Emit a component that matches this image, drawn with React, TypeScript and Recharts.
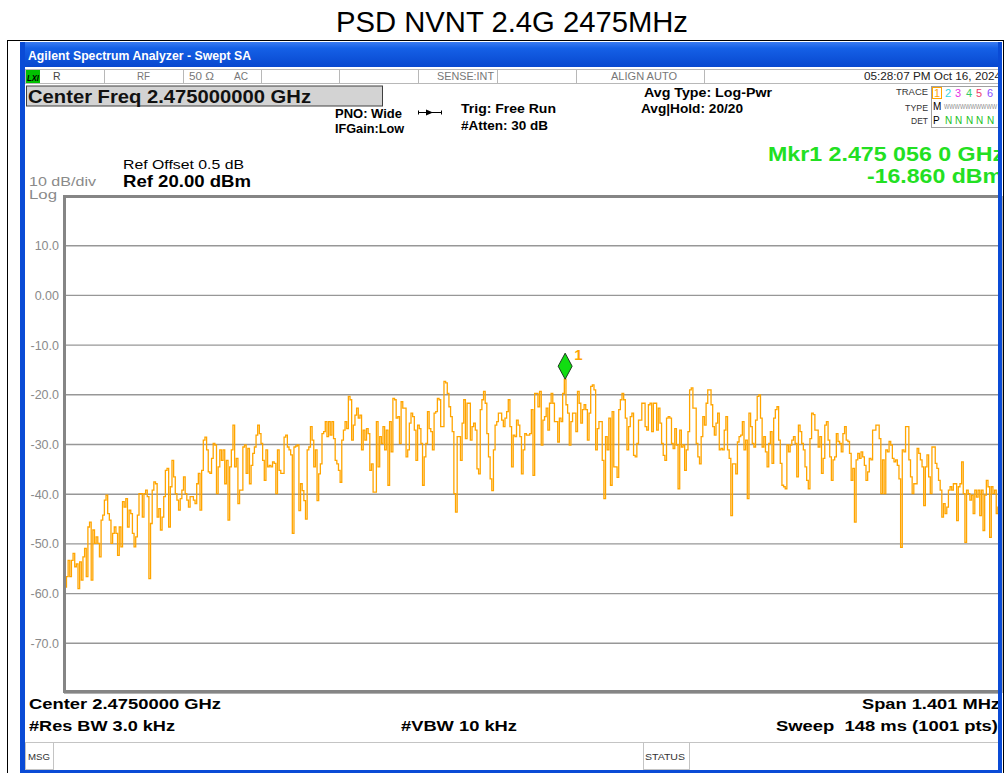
import React from 'react';
import { LineChart, Line, XAxis, YAxis, CartesianGrid, ReferenceDot } from 'recharts';

// Trace values (dBm), read left to right across the screen
const seg1 = [-53.3,-58.7,-56.6,-53.3,-56.6,-53.3,-51.9,-54.6,-54.0,-59.0,-53.6,-57.3,-52.6,-50.9,-56.6,-46.6,-45.6,-57.3,-47.2,-49.9,-48.6,-49.9,-52.6,-45.2,-44.2,-41.2,-40.2,-43.9,-45.2,-49.9,-47.9,-46.6,-47.9,-52.3,-46.6,-50.6,-41.5,-42.6,-40.9,-46.6,-43.2,-43.9,-47.9,-50.6,-48.6,-44.2,-39.9,-39.9,-44.6,-39.9,-39.2,-40.5,-57.0,-45.9,-39.2,-37.5,-37.9,-44.6,-42.9,-47.2,-44.6,-40.5,-35.2,-34.8,-46.6,-38.5,-33.2,-36.5,-39.9,-41.2,-43.2,-40.9,-39.2,-36.5,-39.9,-41.2,-42.6,-40.5,-40.5,-41.2,-41.9,-37.9,-35.8,-43.2,-35.2,-29.1,-28.5,-31.1,-35.5,-35.8,-32.8,-29.8,-30.1,-39.9,-34.5,-31.1,-33.2,-31.1,-37.9,-33.2,-45.2,-34.5,-31.1,-26.1,-34.5,-32.8,-41.9,-39.2,-39.2,-30.5,-30.1,-35.8,-30.8,-37.9,-34.2,-31.8,-30.5,-28.1,-26.1,-27.8,-29.8,-33.2,-37.2,-31.1,-34.5,-34.2,-34.5,-33.5,-33.8,-39.9,-31.1,-35.2,-35.8,-35.8,-28.5,-28.1,-30.5,-31.1,-32.1,-47.9,-30.5];
const seg2 = [-30.3,-30.1,-43.3,-37.9,-39.3,-41.3,-45.0,-31.1,-30.5,-26.4,-29.1,-34.5,-31.1,-41.3,-35.9,-33.9,-27.8,-27.4,-25.4,-28.4,-25.4,-28.1,-25.4,-28.8,-33.2,-33.9,-35.2,-37.6,-29.1,-27.1,-25.4,-26.8,-20.3,-21.0,-29.1,-26.1,-24.1,-22.7,-24.7,-24.1,-31.1,-27.1,-29.1,-26.8,-27.8,-35.2,-33.9,-39.6,-39.6,-25.4,-34.5,-28.4,-29.8,-26.4,-31.1,-27.1,-38.2,-25.4,-31.5,-20.7,-21.0,-24.7,-24.4,-29.8,-21.4,-22.7,-22.7,-32.5,-31.1,-25.7,-23.7,-24.4,-27.1,-33.2,-26.1,-26.8,-29.8,-38.2,-32.5,-29.8,-23.4,-26.8,-27.4,-31.1,-23.7,-23.4,-20.7,-21.0,-26.4,-26.4,-17.3,-17.6,-19.7,-22.4,-24.4,-27.4,-39.9,-43.6,-28.4,-28.4,-33.2,-25.7,-21.0,-28.8,-21.7,-21.7,-29.1,-26.4,-25.7,-27.1,-34.9,-35.9,-23.0,-21.0,-19.3,-21.7,-27.8,-32.5,-36.9,-39.3,-31.1,-26.1,-25.4,-23.7,-23.7,-25.1,-26.4,-24.7,-23.4,-21.0,-26.4,-34.5,-28.1,-28.4,-25.1,-26.1,-28.4,-35.9,-31.1,-27.8,-28.1];
const seg3 = [-28.1,-27.8,-23.0,-36.2,-19.7,-19.7,-22.4,-19.3,-30.1,-25.1,-24.4,-22.7,-27.1,-21.7,-19.7,-21.7,-25.4,-25.4,-29.5,-24.7,-25.4,-19.7,-16.86,-22.0,-23.7,-30.1,-25.4,-23.7,-23.7,-27.4,-19.3,-21.7,-25.7,-23.0,-22.0,-23.0,-29.1,-23.7,-18.3,-18.0,-19.0,-31.1,-26.8,-25.4,-25.4,-33.2,-40.9,-28.4,-31.1,-24.7,-38.2,-23.4,-34.5,-34.5,-36.6,-23.0,-21.0,-19.7,-21.0,-24.7,-31.1,-26.4,-24.4,-23.7,-32.2,-32.5,-29.8,-25.1,-25.1,-21.7,-21.7,-26.4,-27.1,-22.0,-21.7,-27.4,-21.7,-21.7,-27.1,-22.7,-25.7,-29.8,-32.2,-33.2,-24.7,-24.4,-24.7,-29.8,-30.8,-26.8,-30.1,-38.9,-27.1,-30.5,-30.1,-35.2,-31.1,-27.4,-19.0,-18.6,-22.7,-22.7,-29.8,-32.5,-33.9,-28.4,-24.4,-26.1,-21.7,-19.0,-19.0,-22.0,-26.4,-28.1,-25.7,-23.7,-31.1,-30.8,-31.1,-27.1,-24.4,-31.1,-32.8,-44.3,-33.9,-33.9,-35.9,-29.5,-28.4,-28.1,-25.4,-31.1,-29.1,-40.9,-23.7,-26.4,-29.8,-30.5,-25.1,-20.3,-20.0,-24.7,-30.5,-28.4];
const seg4 = [-31.5,-34.5,-29.8,-27.4,-33.8,-24.7,-23.0,-22.4,-29.1,-33.8,-38.2,-38.5,-38.9,-30.1,-31.5,-30.1,-29.1,-28.4,-29.8,-36.5,-26.1,-27.4,-29.8,-31.1,-34.5,-37.2,-38.9,-28.8,-23.7,-24.0,-27.1,-27.1,-30.5,-28.4,-35.8,-32.8,-26.1,-25.4,-29.1,-32.5,-37.2,-33.1,-32.5,-27.8,-29.4,-29.8,-31.5,-27.8,-26.4,-29.1,-29.4,-31.8,-37.2,-34.8,-45.6,-33.1,-31.8,-32.8,-31.5,-32.5,-34.2,-37.2,-35.5,-32.8,-33.1,-27.1,-27.1,-26.1,-26.1,-28.8,-39.9,-33.1,-39.9,-31.1,-31.5,-29.4,-30.1,-32.8,-33.5,-33.1,-34.2,-36.9,-50.7,-31.1,-31.5,-26.4,-26.4,-33.1,-36.5,-39.9,-37.9,-37.9,-30.8,-31.8,-33.1,-34.5,-42.3,-34.5,-32.1,-36.5,-39.9,-30.5,-30.5,-33.8,-34.8,-37.2,-39.2,-44.6,-41.9,-43.9,-42.6,-39.2,-38.5,-39.2,-37.9,-37.9,-45.3,-38.5,-37.9,-33.5,-39.9,-49.7,-39.2,-39.9,-41.2,-40.2,-43.9,-39.2,-40.6,-39.2,-44.3,-39.2,-47.3,-40.2,-37.2,-38.5,-48.7,-38.5,-39.9,-39.2,-43.9,-42.6,-39.2,-36.2];

const traceDbm = [...seg1, ...seg2, ...seg3, ...seg4];
const SPAN_KHZ = 1401;
const HALF = SPAN_KHZ / 2;
const yTicks = [20, 10, 0, -10, -20, -30, -40, -50, -60, -70, -80];
const yTickLabels = ['', '10.0', '0.00', '-10.0', '-20.0', '-30.0', '-40.0', '-50.0', '-60.0', '-70.0', ''];
const xDivisions = [0, 1, 2, 3, 4, 5, 6, 7, 8, 9, 10];
const xTicks = xDivisions.map((k) => -HALF + (k * SPAN_KHZ) / 10);

const N = traceDbm.length;
const chartData = traceDbm.map((v, i) => ({ f: -HALF + (i * SPAN_KHZ) / (N - 1), dbm: v }));
let markerIdx = 0;
traceDbm.forEach((v, i) => { if (v > traceDbm[markerIdx]) markerIdx = i; });
const marker = chartData[markerIdx];

const FONT = "'Liberation Sans', Arial, Helvetica, sans-serif";

const T = (p: any) => (
  <text
    x={p.x}
    y={p.y}
    fontSize={p.s}
    fontWeight={p.b ? 'bold' : 'normal'}
    fontStyle={p.it ? 'italic' : 'normal'}
    fill={p.c || '#000'}
    textAnchor={p.a || 'start'}
    fontFamily={FONT}
    textLength={p.w}
    lengthAdjust={p.w ? 'spacingAndGlyphs' : undefined}
  >
    {p.children}
  </text>
);

const MarkerShape = (props: any) => {
  const { cx, cy } = props;
  if (cx == null || cy == null) return null;
  return (
    <g>
      <polygon
        points={`${cx},${cy} ${cx + 7},${cy - 13} ${cx},${cy - 26} ${cx - 7},${cy - 13}`}
        fill="#11dd11"
        stroke="#1e3a1e"
        strokeWidth={1}
      />
      <text x={cx + 9} y={cy - 19} fontSize={15} fontWeight="bold" fill="#ffa500" fontFamily={FONT}>1</text>
    </g>
  );
};

export default function App() {
  return (
    <div style={{ position: 'absolute', left: 0, top: 0, width: 1006, height: 773, background: '#fff', overflow: 'hidden' }}>
      <div style={{ position: 'absolute', left: 0, top: 0 }}>
        <LineChart width={1006} height={773} data={chartData} margin={{ top: 196, right: 4, bottom: 80, left: 20 }}>
          <CartesianGrid stroke="#979797" strokeWidth={1.4} />
          <XAxis dataKey="f" type="number" domain={[-HALF, HALF]} ticks={xTicks} height={0} tick={false} axisLine={false} tickLine={false} allowDataOverflow />
          <YAxis
            type="number"
            domain={[-80, 20]}
            ticks={yTicks}
            width={44}
            axisLine={false}
            tickLine={false}
            tickSize={0}
            tickMargin={5}
            interval={0}
            tick={{ fill: '#8a8a8a', fontSize: 12.5, fontFamily: FONT }}
            tickFormatter={(v: number) => yTickLabels[yTicks.indexOf(v)]}
            allowDataOverflow
          />
          <Line dataKey="dbm" type="step" stroke="#ffa500" strokeWidth={1.3} dot={false} isAnimationActive={false} />
          <ReferenceDot x={marker.f} y={marker.dbm} r={0} shape={MarkerShape} ifOverflow="visible" />
        </LineChart>
      </div>
      <svg width={1006} height={773} style={{ position: 'absolute', left: 0, top: 0, pointerEvents: 'none' }}>
        <defs>
          <linearGradient id="tb" x1="0" y1="0" x2="0" y2="1">
            <stop offset="0" stopColor="#3b7cf2" />
            <stop offset="0.25" stopColor="#1560e6" />
            <stop offset="1" stopColor="#0848cf" />
          </linearGradient>
          <clipPath id="win">
            <rect x={25} y={40} width={973} height={733} />
          </clipPath>
        </defs>

        {/* outer frame */}
        <rect x={7.5} y={40.5} width={996} height={740} fill="none" stroke="#000" strokeWidth={1} />
        <T x={336} y={32} s={29} w={352}>PSD NVNT 2.4G 2475MHz</T>

        {/* window title bar */}
        <rect x={20} y={42} width={982} height={25} fill="url(#tb)" />
        <T x={28} y={60} s={12.5} b w={223} c="#fff">Agilent Spectrum Analyzer - Swept SA</T>

        {/* blue borders */}
        <rect x={20} y={42} width={5} height={731} fill="#0a4bd6" />
        <rect x={998} y={42} width={4} height={731} fill="#0a4bd6" />
        <rect x={20} y={770} width={982} height={3} fill="#0a4bd6" />

        {/* status row */}
        <g clipPath="url(#win)">
          <rect x={25.5} y={69.5} width={980} height={14} fill="#fff" stroke="#b8b8b8" />
          {[104, 183, 261, 339, 418, 497, 576, 704].map((x) => (
            <line key={x} x1={x + 0.5} y1={69.5} x2={x + 0.5} y2={83.5} stroke="#b8b8b8" />
          ))}
          <rect x={26} y={70} width={14} height={13} fill="#00c000" />
          <T x={27} y={80.5} s={9} b it w={12}>LXI</T>
          <T x={53} y={80} s={10.5} c="#444">R</T>
          <T x={137} y={80} s={10.5} w={13} c="#777">RF</T>
          <T x={189} y={80} s={10.5} w={25} c="#777">50 Ω</T>
          <T x={234} y={80} s={10.5} w={14} c="#777">AC</T>
          <T x={437} y={80} s={10.5} w={57} c="#777">SENSE:INT</T>
          <T x={611} y={80} s={10.5} w={66} c="#777">ALIGN AUTO</T>
          <T x={864} y={80} s={10.5} w={137} c="#222">05:28:07 PM Oct 16, 2024</T>
        </g>

        {/* center freq box */}
        <rect x={26.5} y={86} width={356} height={20} fill="#d3d3d3" stroke="#404040" strokeWidth={1} />
        <T x={28} y={103} s={18} b w={283} c="#111">Center Freq 2.475000000 GHz</T>

        <T x={335} y={118} s={12} b w={67}>PNO: Wide</T>
        <T x={335} y={132.5} s={12} b w={69}>IFGain:Low</T>
        <line x1={418} y1={112.5} x2={442} y2={112.5} stroke="#000" strokeWidth={1} />
        <polygon points="426,109.5 433,112.5 426,115.5" fill="#000" />
        <line x1={418.5} y1={110.5} x2={418.5} y2={114.5} stroke="#000" />
        <line x1={441.5} y1={110.5} x2={441.5} y2={114.5} stroke="#000" />
        <T x={461} y={113} s={12.5} b w={95}>Trig: Free Run</T>
        <T x={461} y={130} s={12.5} b w={87}>#Atten: 30 dB</T>
        <T x={644} y={97} s={12.5} b w={128}>Avg Type: Log-Pwr</T>
        <T x={641} y={113} s={12.5} b w={102}>Avg|Hold: 20/20</T>

        {/* trace table */}
        <g clipPath="url(#win)">
          <T x={928} y={95} s={9.5} a="end" w={32} c="#333">TRACE</T>
          <T x={928} y={111} s={9.5} a="end" w={23} c="#333">TYPE</T>
          <T x={928} y={124} s={9.5} a="end" w={17} c="#333">DET</T>
          <rect x={931.5} y={86.5} width={80} height={41} fill="none" stroke="#a0a0a0" />
          <rect x={932.5} y={87.5} width={9} height={11} fill="none" stroke="#ffa500" />
          <T x={934} y={97} s={11} c="#ffa500">1</T>
          <T x={945} y={97} s={11} c="#33d6e6">2</T>
          <T x={955} y={97} s={11} c="#e633e6">3</T>
          <T x={966} y={97} s={11} c="#33cc66">4</T>
          <T x={976} y={97} s={11} c="#f03a6a">5</T>
          <T x={987} y={97} s={11} c="#8a4cff">6</T>
          <T x={933} y={110} s={10} c="#000">M</T>
          <T x={944} y={109} s={8} w={53} c="#8a8a8a">WWWWWWWWWW</T>
          <T x={933} y={124} s={10} c="#000">P</T>
          <T x={945} y={124} s={10} c="#22c022">N</T>
          <T x={955} y={124} s={10} c="#22c022">N</T>
          <T x={966} y={124} s={10} c="#22c022">N</T>
          <T x={976} y={124} s={10} c="#22c022">N</T>
          <T x={987} y={124} s={10} c="#22c022">N</T>
          <T x={768} y={161} s={20.5} b w={236} c="#22e022">Mkr1 2.475 056 0 GHz</T>
          <T x={867} y={183} s={20.5} b w={136} c="#22e022">-16.860 dBm</T>
        </g>

        <T x={123} y={169} s={13.5} w={121}>Ref Offset 0.5 dB</T>
        <T x={123} y={187} s={16.5} b w={128}>Ref 20.00 dBm</T>
        <T x={29} y={186} s={13.5} w={67} c="#8a8a8a">10 dB/div</T>
        <T x={29} y={199} s={13.5} w={28} c="#8a8a8a">Log</T>

        {/* plot frame */}
        <g clipPath="url(#win)">
          <rect x={64.5} y={196.5} width={945} height={495} fill="none" stroke="#858585" strokeWidth={3} />
        </g>

        {/* bottom annotations */}
        <g clipPath="url(#win)">
          <T x={29} y={709} s={15.5} b w={192}>Center 2.4750000 GHz</T>
          <T x={29} y={731} s={15.5} b w={146}>#Res BW 3.0 kHz</T>
          <T x={401} y={731} s={15.5} b w={116}>#VBW 10 kHz</T>
          <T x={862} y={709} s={15.5} b w={138}>Span 1.401 MHz</T>
          <T x={776} y={731} s={15.5} b w={222}>{'Sweep\u00a0 148 ms (1001 pts)'}</T>
          <line x1={25} y1={742.5} x2={998} y2={742.5} stroke="#c4c4c4" />
          <rect x={25.5} y={742.5} width={28} height={27} fill="none" stroke="#c4c4c4" />
          <T x={28} y={760} s={9} w={22} c="#333">MSG</T>
          <rect x={643.5} y={742.5} width={46} height={27} fill="none" stroke="#c4c4c4" />
          <T x={645} y={760} s={9} w={40} c="#333">STATUS</T>
        </g>
      </svg>
    </div>
  );
}
